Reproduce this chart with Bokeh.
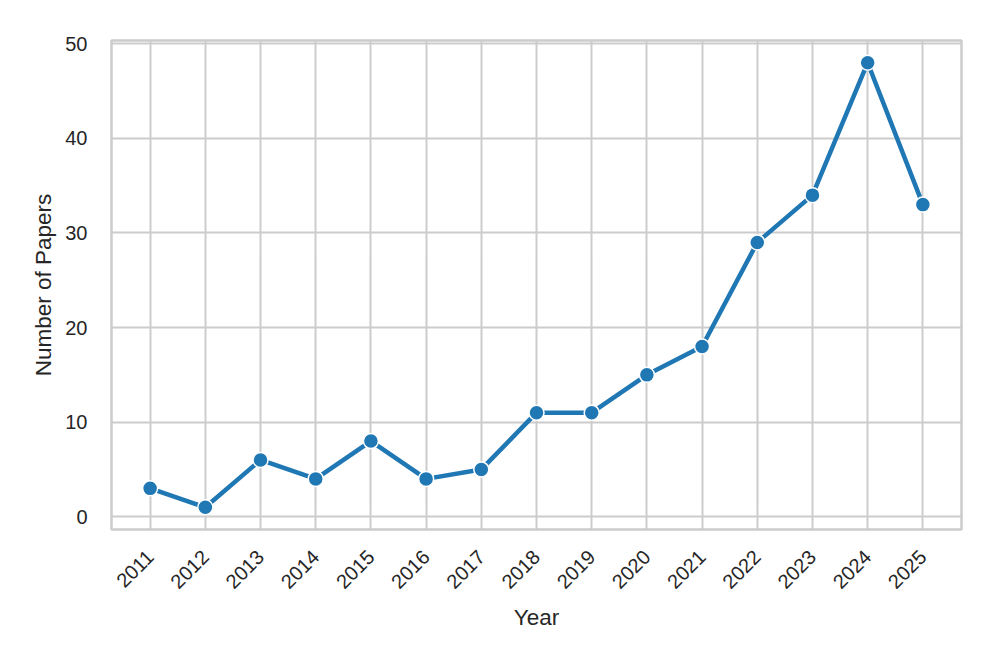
import math
from bokeh.plotting import figure
from bokeh.models import Range1d, FixedTicker, ColumnDataSource
from bokeh.embed import file_html
from bokeh.resources import INLINE

years = [2011, 2012, 2013, 2014, 2015, 2016, 2017, 2018, 2019, 2020, 2021, 2022, 2023, 2024, 2025]
papers = [3, 1, 6, 4, 8, 4, 5, 11, 11, 15, 18, 29, 34, 48, 33]
y_ticks = [0, 10, 20, 30, 40, 50]

Y_MIN, Y_MAX = -1.35, 50.35

src = ColumnDataSource(dict(year=years, papers=papers))

FONT = "Liberation Sans"
GRID = "#cccccc"
TXT = "#262626"
BLUE = "#1f77b4"

p = figure(width=989, height=656, frame_width=850, frame_height=489,
           min_border_left=111, min_border_top=40, min_border_right=28, min_border_bottom=127,
           x_range=Range1d(2010.3, 2025.7), y_range=Range1d(Y_MIN, Y_MAX),
           output_backend="svg", toolbar_location=None)

p.line("year", "papers", source=src, line_color=BLUE, line_width=4.5)
p.scatter("year", "papers", source=src, size=15, fill_color=BLUE, line_color="white", line_width=1.5)

p.xaxis.ticker = FixedTicker(ticks=years)
p.yaxis.ticker = FixedTicker(ticks=y_ticks)
p.xaxis.major_label_orientation = math.pi / 4

for ax in (p.xaxis, p.yaxis):
    ax.axis_line_color = None
    ax.major_tick_line_color = None
    ax.minor_tick_line_color = None
    ax.major_label_text_font = FONT
    ax.major_label_text_font_size = "20px"
    ax.major_label_text_color = TXT
    ax.axis_label_text_font = FONT
    ax.axis_label_text_font_size = "22.5px"
    ax.axis_label_text_font_style = "normal"
    ax.axis_label_text_color = TXT

p.xaxis.axis_label = "Year"
p.yaxis.axis_label = "Number of Papers"
p.yaxis.major_label_standoff = 18
p.xaxis.major_label_standoff = 18
p.yaxis.axis_label_standoff = 6
p.xaxis.axis_label_standoff = 7

p.grid.grid_line_color = GRID
p.grid.grid_line_width = 2
p.outline_line_color = GRID
p.outline_line_width = 2.5
p.background_fill_color = "white"
p.border_fill_color = "white"

open("out.html", "w").write(file_html(p, INLINE))
